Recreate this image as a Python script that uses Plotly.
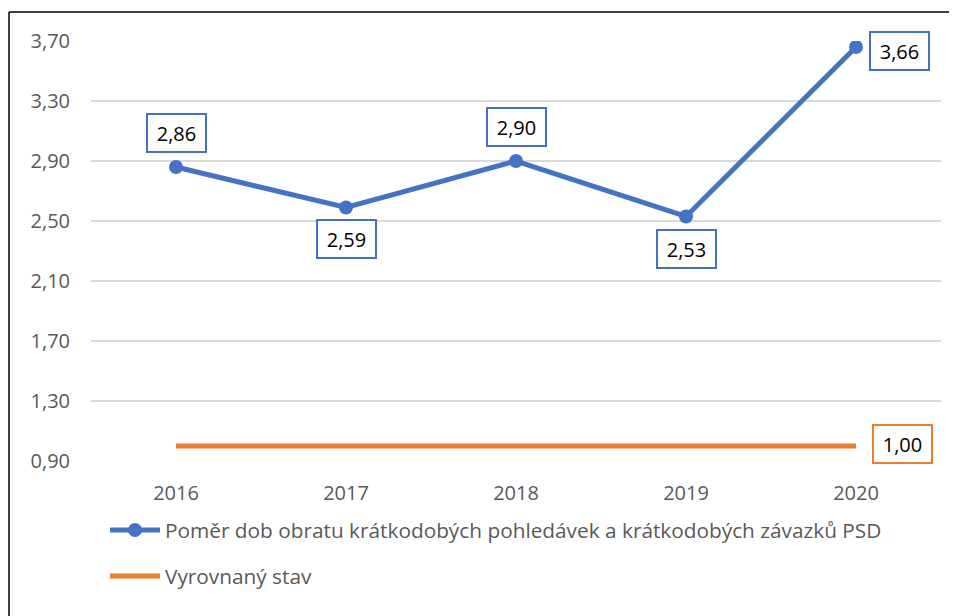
import plotly.graph_objects as go

years = ["2016", "2017", "2018", "2019", "2020"]
ratio = [2.86, 2.59, 2.90, 2.53, 3.66]
balanced = [1.00, 1.00, 1.00, 1.00, 1.00]
ratio_name = "Poměr dob obratu krátkodobých pohledávek a krátkodobých závazků PSD"
balanced_name = "Vyrovnaný stav"
y_ticks = [0.90, 1.30, 1.70, 2.10, 2.50, 2.90, 3.30, 3.70]

BLUE = "#4472C4"
ORANGE = "#ED7D31"
GRAY = "#595959"
FONT = "Open Sans"
FS = 20

fig = go.Figure()
fig.add_trace(go.Scatter(
    x=years, y=ratio, name=ratio_name, mode="lines+markers",
    line=dict(color=BLUE, width=5), marker=dict(color=BLUE, size=14),
    legendgroup="a",
))
fig.add_trace(go.Scatter(
    x=years, y=balanced, name=balanced_name, mode="lines",
    line=dict(color=ORANGE, width=5), legendgroup="b",
))

# data labels (x given as category index)
shifts = [(0, 34), (0, -31), (0, 34), (0, -32), (43, -4)]
for i, (v, (dx, dy)) in enumerate(zip(ratio, shifts)):
    fig.add_annotation(
        x=i, y=v, text=f"{v:.2f}".replace(".", ","), showarrow=False,
        xshift=dx, yshift=dy, font=dict(family=FONT, size=FS, color="black"),
        width=43, height=22,
        bordercolor=BLUE, borderwidth=2, borderpad=7, bgcolor="white",
    )
fig.add_annotation(
    x=len(years) - 1, y=balanced[-1], text=f"{balanced[-1]:.2f}".replace(".", ","),
    showarrow=False, xshift=46, yshift=2,
    font=dict(family=FONT, size=FS, color="black"),
    width=43, height=22,
    bordercolor=ORANGE, borderwidth=2, borderpad=7, bgcolor="white",
)

# page is offset by the body margin (8px), so margins are compensated
L, R, T, B = 83, 24, 33, 163
W, H = 957 - L - R, 616 - T - B
bx0 = (1 - L) / W
by1 = 1 + (T - 4) / H
# outer chart border: only left and top edges are visible in the reference
fig.add_shape(type="line", xref="paper", yref="paper",
              x0=bx0, x1=bx0, y0=-0.6, y1=by1,
              line=dict(color="black", width=1.5), layer="below")
fig.add_shape(type="line", xref="paper", yref="paper",
              x0=bx0, x1=1.3, y0=by1, y1=by1,
              line=dict(color="black", width=1.5), layer="below")

fig.update_layout(
    width=957, height=616,
    margin=dict(l=L, r=R, t=T, b=B),
    paper_bgcolor="white", plot_bgcolor="white",
    separators=", ",
    font=dict(family=FONT, size=FS, color=GRAY),
    showlegend=True,
    legend=dict(
        x=(97 - L) / W, xanchor="left", y=-(502 - (T + H)) / H, yanchor="top",
        orientation="v", tracegroupgap=16,
        font=dict(family=FONT, size=20.8, color=GRAY),
        itemwidth=50, bgcolor="rgba(0,0,0,0)",
    ),
    xaxis=dict(
        type="category", range=[-0.5, len(years) - 0.5],
        showgrid=False, zeroline=False, showline=False,
        ticks="outside", ticklen=14, tickcolor="rgba(0,0,0,0)",
        tickfont=dict(family=FONT, size=FS, color=GRAY),
    ),
    yaxis=dict(
        range=[0.90, 3.70], tickvals=y_ticks, tickformat=".2f",
        showgrid=True, gridcolor="#D9D9D9", gridwidth=1.5,
        zeroline=False, showline=False,
        ticks="outside", ticklen=16, tickcolor="rgba(0,0,0,0)",
        tickfont=dict(family=FONT, size=FS, color=GRAY),
    ),
)

fig.write_html("out.html")
